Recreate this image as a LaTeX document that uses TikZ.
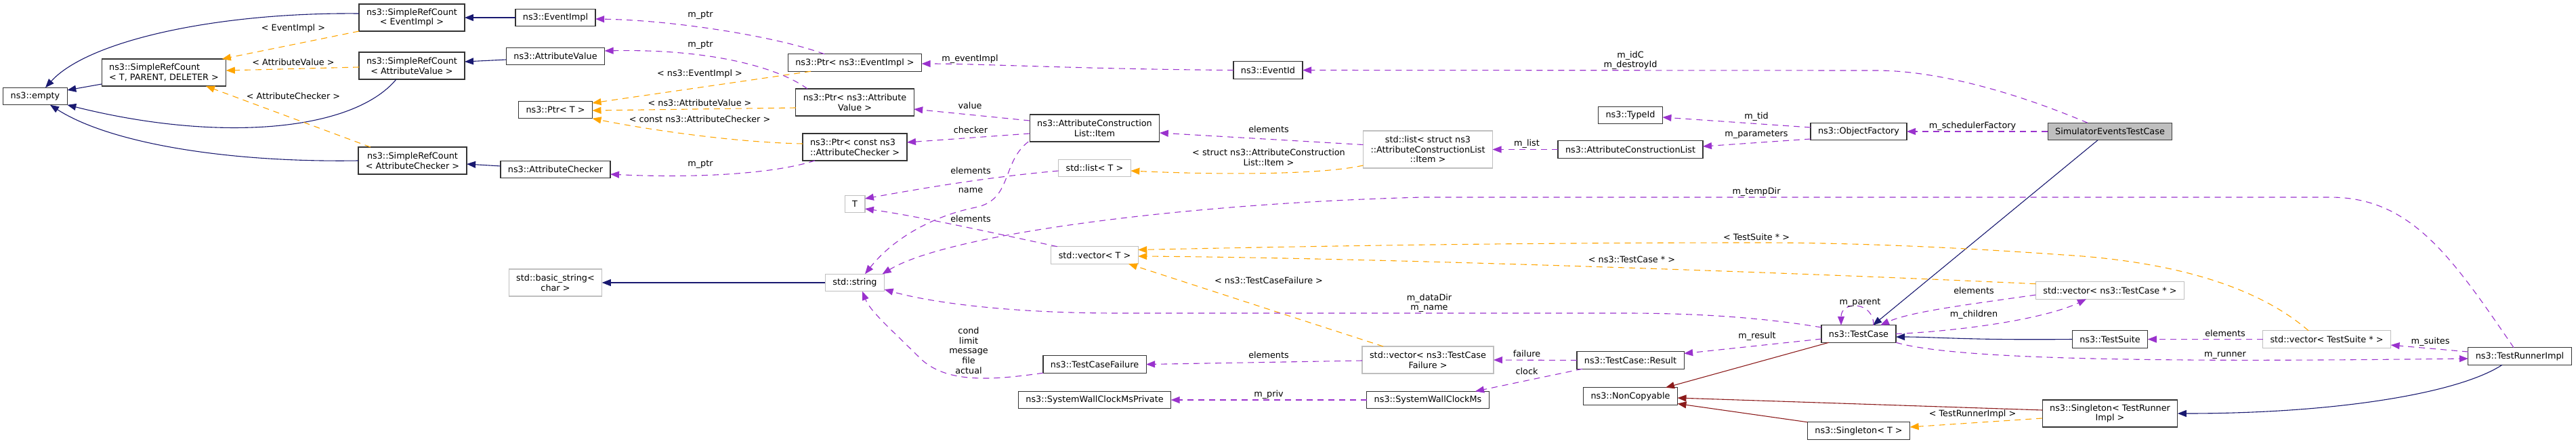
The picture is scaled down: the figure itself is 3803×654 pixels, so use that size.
\documentclass[tikz,border=0pt]{standalone}
\usepackage{fontspec}
\setmainfont{DejaVu Sans}
\usepackage{xcolor}
\usetikzlibrary{arrows.meta}

\definecolor{inhblue}{HTML}{191970}
\definecolor{usepurple}{HTML}{9A32CD}
\definecolor{tplorange}{HTML}{FFA500}
\definecolor{privred}{HTML}{8B1A1A}
\definecolor{extgray}{HTML}{BFBFBF}

\begin{document}
\begin{tikzpicture}[
    x=1pt, y=-1pt,
    font=\fontsize{12.8}{14.7}\selectfont,
    cls/.style={rectangle, draw=black!80, line width=1.2pt, fill=white, inner xsep=11pt, inner ysep=4pt, minimum height=25.5pt, align=center, outer sep=0pt},
    ext/.style={cls, draw=extgray},
    focus/.style={cls, fill=extgray, draw=black!75},
    two/.style={minimum height=40pt},
    three/.style={minimum height=55pt},
    lbl/.style={inner sep=0pt, align=center},
    inh/.style={draw=inhblue, line width=1.1pt, -{Triangle[length=13pt,width=10pt]}},
    priv/.style={inh, draw=privred},
    tpl/.style={inh, draw=tplorange, dash pattern=on 9pt off 7pt},
    use/.style={inh, draw=usepurple, dash pattern=on 9pt off 7pt}
]
\useasboundingbox (0,0) rectangle (3803,654);

% Classes
\node[cls] (empty) at (52,142) {ns3::empty};
\node[cls, two, align=left] (srcTPD) at (242,107) {ns3::SimpleRefCount\\< T, PARENT, DELETER >};
\node[cls, two] (srcEI) at (608,26) {ns3::SimpleRefCount\\< EventImpl >};
\node[cls, two] (srcAV) at (608,97) {ns3::SimpleRefCount\\< AttributeValue >};
\node[cls, two] (srcAC) at (609,237) {ns3::SimpleRefCount\\< AttributeChecker >};
\node[cls] (eventImpl) at (820,26) {ns3::EventImpl};
\node[cls] (attrVal) at (820,83) {ns3::AttributeValue};
\node[cls] (ptrT) at (820,162) {ns3::Ptr< T >};
\node[cls] (attrChk) at (820,250) {ns3::AttributeChecker};
\node[ext, two] (basicStr) at (820,417) {std::basic\_string<\\char >};
\node[cls] (ptrEI) at (1262,92.5) {ns3::Ptr< ns3::EventImpl >};
\node[cls, two] (ptrAV) at (1262,151) {ns3::Ptr< ns3::Attribute\\Value >};
\node[cls, two, align=left] (ptrAC) at (1262,217) {ns3::Ptr< const ns3\\::AttributeChecker >};
\node[ext] (tT) at (1262,301) {T};
\node[ext] (stdStr) at (1262,417) {std::string};
\node[cls, two] (acItem) at (1616,189) {ns3::AttributeConstruction\\List::Item};
\node[ext] (listT) at (1616,248) {std::list< T >};
\node[ext] (vecT) at (1616,376.5) {std::vector< T >};
\node[cls] (tcFail) at (1616,537.5) {ns3::TestCaseFailure};
\node[cls] (swcPriv) at (1616,590) {ns3::SystemWallClockMsPrivate};
\node[cls] (eventId) at (1872,103.5) {ns3::EventId};
\node[ext, three] (listItem) at (2108,220.5) {std::list< struct ns3\\::AttributeConstructionList\\::Item >};
\node[ext, two] (vecTCF) at (2108,531) {std::vector< ns3::TestCase\\Failure >};
\node[cls] (swc) at (2108,590) {ns3::SystemWallClockMs};
\node[cls] (typeId) at (2407,170) {ns3::TypeId};
\node[cls] (acList) at (2407,220.5) {ns3::AttributeConstructionList};
\node[cls] (tcResult) at (2407,531.5) {ns3::TestCase::Result};
\node[cls] (nonCopy) at (2407,584.5) {ns3::NonCopyable};
\node[cls] (objFact) at (2744,194) {ns3::ObjectFactory};
\node[cls] (testCase) at (2744,492.5) {ns3::TestCase};
\node[cls] (singT) at (2744,635.5) {ns3::Singleton< T >};
\node[focus] (simTC) at (3115,194) {SimulatorEventsTestCase};
\node[ext] (vecTC) at (3115,428.5) {std::vector< ns3::TestCase * >};
\node[cls] (testSuite) at (3115,500.5) {ns3::TestSuite};
\node[cls, two] (singTRI) at (3115,610) {ns3::Singleton< TestRunner\\Impl >};
\node[ext] (vecTS) at (3435,500.5) {std::vector< TestSuite * >};
\node[cls] (runner) at (3720,525.5) {ns3::TestRunnerImpl};

% Public inheritance
\draw[inh] ([yshift=6pt]srcEI.west) .. controls (320,18) and (130,60) .. ([xshift=15pt]empty.north);
\draw[inh] ([yshift=3pt]srcTPD.south west) -- ([yshift=9pt]empty.east);
\draw[inh] ([xshift=-23pt]srcAV.south) .. controls (520,195) and (320,210) .. (empty.south east);
\draw[inh] (srcAC.west) .. controls (330,240) and (160,210) .. ([xshift=22pt]empty.south);
\draw[inh] (eventImpl.west) -- (srcEI.east);
\draw[inh] ([yshift=-5pt]attrVal.west) -- ([yshift=6pt]srcAV.east);
\draw[inh] ([yshift=5pt]attrChk.west) -- ([yshift=-5pt]srcAC.east);
\draw[inh] (stdStr.west) -- (basicStr.east);
\draw[inh] ([xshift=-18pt]simTC.south) -- ([xshift=21pt]testCase.north);
\draw[inh] (testSuite.west) .. controls (2900,502) and (2860,497) .. ([yshift=-4.5pt]testCase.east);
\draw[inh] ([xshift=-26pt]runner.south) .. controls (3630,580) and (3450,610) .. (singTRI.east);

% Private inheritance
\draw[priv] ([xshift=-44pt]testCase.south) -- ([xshift=52pt]nonCopy.north);
\draw[priv] ([yshift=5pt]singTRI.west) -- ([yshift=-2.5pt]nonCopy.east);
\draw[priv] (singT.north west) -- ([yshift=-11pt]nonCopy.east);

% Template instances
\draw[tpl] (srcEI.south west) -- ([xshift=-6pt]srcTPD.north east);
\draw[tpl] ([yshift=-2pt]srcAV.west) -- ([yshift=3pt]srcTPD.east);
\draw[tpl] ([xshift=-62pt]srcAC.north) -- ([xshift=62pt]srcTPD.south);
\draw[tpl] ([xshift=-65pt]ptrEI.south) -- ([yshift=10pt]ptrT.east);
\draw[tpl] ([yshift=-8pt]ptrAV.west) -- ([yshift=-1pt]ptrT.east);
\draw[tpl] ([yshift=5pt]ptrAC.west) .. controls (1080,210) and (950,190) .. (ptrT.south east);
\draw[tpl] ([yshift=4pt]listItem.south west) .. controls (1950,258) and (1800,258) .. ([yshift=-4pt]listT.east);
\draw[tpl] ([xshift=-66pt]vecTCF.north) -- ([xshift=50pt]vecT.south);
\draw[tpl] ([yshift=-3pt]vecTC.north west) .. controls (2600,400) and (2000,380) .. ([yshift=-1.5pt]vecT.east);
\draw[tpl] ([xshift=-27pt]vecTS.north) .. controls (3330,420) and (3200,385) .. (3046,376)
    .. controls (2850,362) and (2700,358) .. (2600,358) .. controls (2200,358) and (1900,364) .. ([yshift=8pt]vecT.east);
\draw[tpl] ([yshift=-7pt]singTRI.west) -- ([yshift=5.5pt]singT.east);

% Members
\draw[use] ([xshift=-45pt]ptrEI.north) .. controls (1150,55) and (1000,30) .. ([yshift=-2pt]eventImpl.east);
\draw[use] ([xshift=-70pt]ptrAV.north) .. controls (1150,100) and (1050,72) .. ([yshift=8pt]attrVal.east);
\draw[use] ([xshift=-59pt]ptrAC.south) .. controls (1130,260) and (1000,262) .. ([yshift=-7pt]attrChk.east);
\draw[use] (eventId.west) .. controls (1600,102) and (1450,94) .. ([yshift=-1.5pt]ptrEI.east);
\draw[use] ([yshift=11pt]acItem.west) -- ([yshift=-10pt]ptrAV.east);
\draw[use] ([yshift=-8pt]acItem.west) -- ([yshift=7pt]ptrAC.east);
\draw[use] ([xshift=-2pt]acItem.south west) .. controls (1478,240) and (1495,295) .. (1440,306)
    .. controls (1380,318) and (1320,350) .. ([xshift=15pt]stdStr.north);
\draw[use] ([yshift=-4pt]listT.west) .. controls (1450,262) and (1350,280) .. ([yshift=8pt]tT.east);
\draw[use] ([xshift=9pt]vecT.north west) .. controls (1450,340) and (1350,318) .. ([yshift=-7pt]tT.east);
\draw[use] ([yshift=7pt]listItem.west) -- ([yshift=-7pt]acItem.east);
\draw[use] (acList.west) -- (listItem.east);
\draw[use] ([yshift=6pt]objFact.west) -- ([yshift=-3pt]typeId.east);
\draw[use] ([yshift=-11pt]objFact.west) -- ([yshift=4.5pt]acList.east);
\draw[use] (simTC.west) -- (objFact.east);
\draw[use] ([xshift=-33pt]simTC.north) .. controls (2960,130) and (2850,104) .. (2770,104) -- (eventId.east);
\draw[use] ([xshift=-9pt]runner.north) .. controls (3620,380) and (3560,291) .. (3440,291) -- (2100,291)
    .. controls (1750,300) and (1400,345) .. ([xshift=-3pt]stdStr.north east);
\draw[use] ([yshift=9.5pt]testCase.west) .. controls (2600,468) and (2500,462) .. (2400,462) -- (1650,462)
    .. controls (1500,462) and (1380,448) .. ([yshift=-10pt]stdStr.east);
\draw[use] (tcFail.south west) .. controls (1470,560) and (1400,567) .. (1360,530)
    .. controls (1320,490) and (1285,460) .. ([xshift=11pt]stdStr.south);
\draw[use] ([yshift=-1pt]vecTCF.west) -- (tcFail.east);
\draw[use] (swc.west) -- (swcPriv.east);
\draw[use] (tcResult.west) -- (vecTCF.east);
\draw[use] ([xshift=-71pt]tcResult.south) -- ([xshift=70pt]swc.north);
\draw[use] ([yshift=-7.5pt]testCase.west) -- ([yshift=10pt]tcResult.east);
\draw[use] ([xshift=22pt]testCase.north) .. controls +(0,-36) and +(0,-36) .. ([xshift=-26pt]testCase.north);
\draw[use] ([yshift=-6.5pt]vecTC.west) .. controls (2900,450) and (2820,460) .. ([xshift=32pt]testCase.north);
\draw[use] (testCase.east) .. controls (2900,488) and (3020,470) .. ([xshift=-35pt]vecTC.south);
\draw[use] (testCase.south east) .. controls (2900,535) and (3300,533) .. ([yshift=-3.5pt]runner.west);
\draw[use] (vecTS.west) -- (testSuite.east);
\draw[use] ([yshift=6.5pt]runner.west) -- ([yshift=-8.5pt]vecTS.east);

% Edge labels
\node[lbl] (lEvI) at (433,42) {< EventImpl >};
\node[lbl] (lAtV) at (433,92) {< AttributeValue >};
\node[lbl] (lAtC) at (433,142) {< AttributeChecker >};
\node[lbl] (lPtrA) at (1034,23) {m\_ptr};
\node[lbl] (lPtrB) at (1034,67) {m\_ptr};
\node[lbl] (lPtrEI) at (1033,109) {< ns3::EventImpl >};
\node[lbl] (lPtrAV) at (1033,152) {< ns3::AttributeValue >};
\node[lbl] (lPtrAC) at (1033,176) {< const ns3::AttributeChecker >};
\node[lbl] (lPtrC) at (1034,243) {m\_ptr};
\node[lbl] (lEvImpl) at (1432,87) {m\_eventImpl};
\node[lbl] (lValue) at (1432,156) {value};
\node[lbl] (lChecker) at (1433,192) {checker};
\node[lbl] (lElemA) at (1433,252) {elements};
\node[lbl] (lName) at (1433,281) {name};
\node[lbl] (lElemB) at (1433,323) {elements};
\node[lbl] (lCond) at (1430,517) {cond\\limit\\message\\file\\actual};
\node[lbl] (lElemC) at (1873,191) {elements};
\node[lbl] (lStruct) at (1873,232) {< struct ns3::AttributeConstruction\\List::Item >};
\node[lbl] (lTCF) at (1873,414) {< ns3::TestCaseFailure >};
\node[lbl] (lElemD) at (1873,524) {elements};
\node[lbl] (lPriv) at (1873,582) {m\_priv};
\node[lbl] (lDataDir) at (2110,447) {m\_dataDir\\m\_name};
\node[lbl] (lList) at (2254,212) {m\_list};
\node[lbl] (lFailure) at (2254,522) {failure};
\node[lbl] (lClock) at (2254,548) {clock};
\node[lbl] (lIdC) at (2407,89) {m\_idC\\m\_destroyId};
\node[lbl] (lTCptr) at (2409,383) {< ns3::TestCase * >};
\node[lbl] (lTid) at (2593,172) {m\_tid};
\node[lbl] (lParams) at (2593,199) {m\_parameters};
\node[lbl] (lTempDir) at (2593,283) {m\_tempDir};
\node[lbl] (lTSptr) at (2593,350) {< TestSuite * >};
\node[lbl] (lResult) at (2594,496) {m\_result};
\node[lbl] (lParent) at (2746,447) {m\_parent};
\node[lbl] (lSched) at (2912,186) {m\_schedulerFactory};
\node[lbl] (lElemE) at (2914,429) {elements};
\node[lbl] (lChildren) at (2914,464) {m\_children};
\node[lbl] (lTRI) at (2912,611) {< TestRunnerImpl >};
\node[lbl] (lElemF) at (3285,492) {elements};
\node[lbl] (lRunner) at (3285,524) {m\_runner};
\node[lbl] (lSuites) at (3588,504) {m\_suites};

\end{tikzpicture}
\end{document}
